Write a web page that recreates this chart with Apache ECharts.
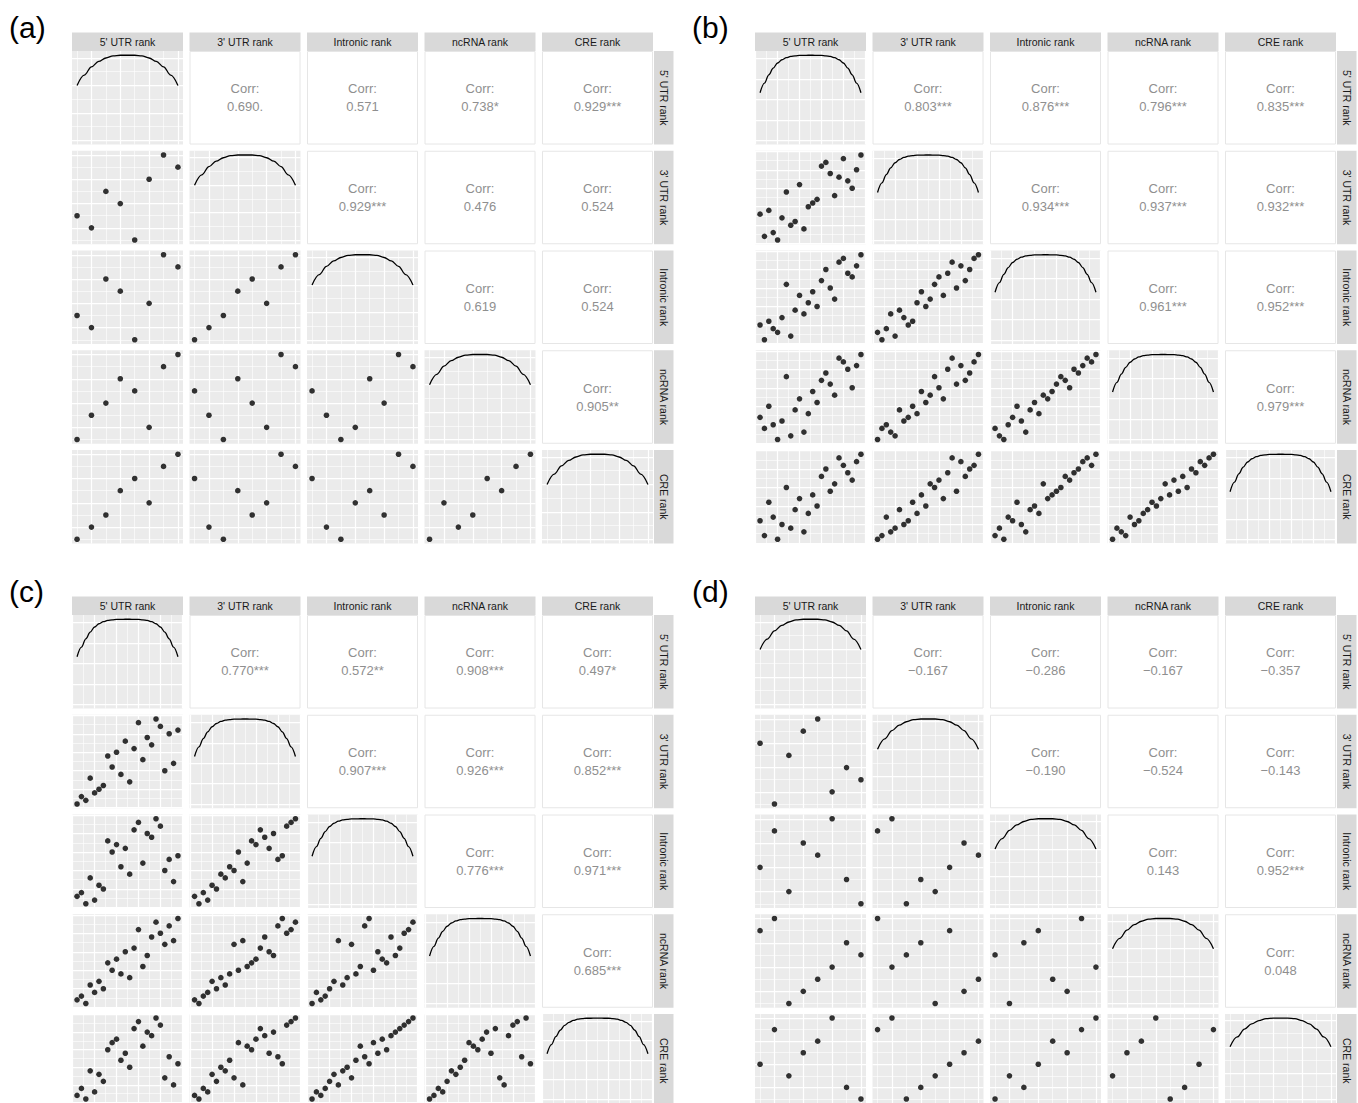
<!DOCTYPE html>
<html>
<head>
<meta charset="utf-8">
<script src="https://cdn.jsdelivr.net/npm/echarts@6/dist/echarts.min.js"></script>
<style>
  html, body { margin: 0; padding: 0; background: #ffffff; }
  #chart { width: 1358px; height: 1103px; }
</style>
</head>
<body>
<div id="chart"></div>
<script>
// Variables shown on the rows / columns of every pair matrix
const variables = ["5' UTR rank", "3' UTR rank", "Intronic rank", "ncRNA rank", "CRE rank"];
const panelLabels = ["(a)", "(b)", "(c)", "(d)"];

// (a) ranks of 8 samples (samples ordered by 5' UTR rank)
const a5utr     = [1, 2, 3, 4, 5, 6, 7, 8];
const a3utr     = [3, 2, 5, 4, 1, 6, 8, 7];
const aIntronic = [3, 2, 6, 5, 1, 4, 8, 7];
const aNcrna    = [1, 3, 4, 6, 5, 2, 7, 8];
const aCre      = [1, 2, 3, 5, 6, 4, 7, 8];

// (b) ranks of 24 samples
const b5utr     = [1, 2, 3, 4, 5, 6, 7, 8, 9, 10, 11, 12, 13, 14, 15, 16, 17, 18, 19, 20, 21, 22, 23, 24];
const b3utr     = [8, 2, 9, 3, 1, 7, 14, 5, 6, 16, 4, 10, 11, 12, 21, 22, 19, 13, 18, 23, 17, 15, 20, 24];
const bIntronic = [5, 1, 6, 4, 3, 7, 16, 2, 9, 13, 8, 11, 14, 10, 17, 20, 15, 12, 22, 23, 19, 18, 21, 24];
const bNcrna    = [7, 4, 10, 5, 1, 6, 18, 2, 9, 12, 3, 8, 14, 11, 17, 19, 16, 13, 23, 22, 20, 15, 21, 24];
const bCre      = [6, 2, 11, 7, 1, 5, 15, 4, 9, 12, 3, 8, 13, 10, 18, 20, 14, 16, 23, 21, 19, 17, 22, 24];

// (c) ranks of 24 samples
const c5utr     = [1, 2, 3, 4, 5, 6, 7, 8, 9, 10, 11, 12, 13, 14, 15, 16, 17, 18, 19, 20, 21, 22, 23, 24];
const c3utr     = [1, 3, 2, 8, 4, 5, 6, 14, 11, 15, 9, 18, 7, 16, 23, 13, 19, 17, 24, 22, 10, 20, 12, 21];
const cIntronic = [3, 4, 1, 8, 2, 6, 5, 18, 15, 17, 11, 16, 9, 21, 23, 12, 20, 19, 24, 22, 10, 13, 7, 14];
const cNcrna    = [2, 3, 1, 6, 4, 7, 5, 12, 10, 13, 9, 15, 8, 16, 21, 11, 14, 19, 23, 20, 17, 22, 18, 24];
const cCre      = [2, 4, 1, 9, 3, 8, 6, 15, 17, 18, 12, 14, 10, 21, 23, 16, 20, 19, 24, 22, 7, 13, 5, 11];

// (d) ranks of 8 samples
const d5utr     = [1, 2, 3, 4, 5, 6, 7, 8];
const d3utr     = [6, 1, 5, 7, 8, 2, 4, 3];
const dIntronic = [4, 7, 2, 6, 5, 8, 3, 1];
const dNcrna    = [7, 8, 1, 2, 3, 4, 6, 5];
const dCre      = [4, 7, 3, 5, 6, 8, 2, 1];

// Upper-triangle correlation labels, pairs (1,2) (1,3) (1,4) (1,5) (2,3) (2,4) (2,5) (3,4) (3,5) (4,5)
const aCorr = ["0.690.", "0.571", "0.738*", "0.929***", "0.929***", "0.476", "0.524", "0.619", "0.524", "0.905**"];
const bCorr = ["0.803***", "0.876***", "0.796***", "0.835***", "0.934***", "0.937***", "0.932***", "0.961***", "0.952***", "0.979***"];
const cCorr = ["0.770***", "0.572**", "0.908***", "0.497*", "0.907***", "0.926***", "0.852***", "0.776***", "0.971***", "0.685***"];
const dCorr = ["\u22120.167", "\u22120.286", "\u22120.167", "\u22120.357", "\u22120.190", "\u22120.524", "\u22120.143", "0.143", "0.952***", "0.048"];

// Diagonal density curves of the rank variables (8 and 24 samples)
const density8X  = [1, 1.5, 2, 2.5, 3, 3.5, 4, 4.5, 5, 5.5, 6, 6.5, 7, 7.5, 8];
const density8Y  = [0.080, 0.095, 0.107, 0.115, 0.120, 0.123, 0.124, 0.124, 0.124, 0.123, 0.120, 0.115, 0.107, 0.095, 0.080];
const density24X = [1, 2, 3, 4, 5, 6, 7, 8, 9, 10, 11, 12, 13, 14, 15, 16, 17, 18, 19, 20, 21, 22, 23, 24];
const density24Y = [0.0233, 0.0280, 0.0321, 0.0354, 0.0379, 0.0395, 0.0405, 0.0411, 0.0414, 0.0416, 0.0416, 0.0417,
                    0.0417, 0.0416, 0.0416, 0.0414, 0.0411, 0.0405, 0.0395, 0.0379, 0.0354, 0.0321, 0.0280, 0.0233];

// Break positions (major / minor) of the rank and density scales
const rankMajor8  = [2, 4, 6, 8];
const rankMinor8  = [1, 3, 5, 7];
const rankMajor24 = [0, 5, 10, 15, 20, 25];
const rankMinor24 = [2.5, 7.5, 12.5, 17.5, 22.5];
const densMajor8  = [0, 0.04, 0.08, 0.12];
const densMinor8  = [0.02, 0.06, 0.10];
const densMajor24 = [0, 0.01, 0.02, 0.03, 0.04];
const densMinor24 = [0.005, 0.015, 0.025, 0.035];

const panels = [
  { label: panelLabels[0], ranks: [a5utr, a3utr, aIntronic, aNcrna, aCre], corr: aCorr,
    densX: density8X, densY: density8Y, rMaj: rankMajor8, rMin: rankMinor8, dMaj: densMajor8, dMin: densMinor8 },
  { label: panelLabels[1], ranks: [b5utr, b3utr, bIntronic, bNcrna, bCre], corr: bCorr,
    densX: density24X, densY: density24Y, rMaj: rankMajor24, rMin: rankMinor24, dMaj: densMajor24, dMin: densMinor24 },
  { label: panelLabels[2], ranks: [c5utr, c3utr, cIntronic, cNcrna, cCre], corr: cCorr,
    densX: density24X, densY: density24Y, rMaj: rankMajor24, rMin: rankMinor24, dMaj: densMajor24, dMin: densMinor24 },
  { label: panelLabels[3], ranks: [d5utr, d3utr, dIntronic, dNcrna, dCre], corr: dCorr,
    densX: density8X, densY: density8Y, rMaj: rankMajor8, rMin: rankMinor8, dMaj: densMajor8, dMin: densMinor8 }
];

// Layout of one pair matrix (pixels, relative to the panel origin)
const PANEL_ORIGIN = [[0, 0], [683, 0], [0, 564], [683, 564]];
const CELL_LEFT = 72, CELL_TOP = 51, CELL_W = 111, CELL_H = 93.5;
const STEP_X = 117.5, STEP_Y = 99.75;
const STRIP_H = 18.5, RSTRIP_W = 19.5;
const FONT = "'Liberation Sans', Arial, Helvetica, sans-serif";

const grids = [], xAxes = [], yAxes = [], series = [], elements = [];

function guide(key, major, minor) {
  const minorItems = minor.map(v => ({ [key]: v, lineStyle: { color: '#ffffff', width: 0.6, type: 'solid', opacity: 1 } }));
  const majorItems = major.map(v => ({ [key]: v, lineStyle: { color: '#ffffff', width: 1.25, type: 'solid', opacity: 1 } }));
  return minorItems.concat(majorItems);
}

function addPlotCell(left, top, p, r, c) {
  const g = grids.length;
  const n = p.ranks[0].length;
  const pad = 0.05 * (n - 1);
  grids.push({ left: left, top: top, width: CELL_W, height: CELL_H, show: true,
               backgroundColor: '#EBEBEB', borderWidth: 0 });
  xAxes.push({ gridIndex: g, type: 'value', min: 1 - pad, max: n + pad, show: false });
  let yMajor, yMinor;
  if (r === c) {
    const peak = Math.max.apply(null, p.densY);
    yAxes.push({ gridIndex: g, type: 'value', min: -0.05 * peak, max: 1.05 * peak, show: false });
    yMajor = p.dMaj; yMinor = p.dMin;
  } else {
    yAxes.push({ gridIndex: g, type: 'value', min: 1 - pad, max: n + pad, show: false });
    yMajor = p.rMaj; yMinor = p.rMin;
  }
  // background guide lines of the cell
  series.push({
    type: 'line', xAxisIndex: g, yAxisIndex: g, data: [], z: 1, silent: true,
    markLine: {
      silent: true, symbol: ['none', 'none'], label: { show: false }, z: 1, animation: false,
      emphasis: { disabled: true },
      data: guide('xAxis', p.rMaj, p.rMin).concat(guide('yAxis', yMajor, yMinor))
    }
  });
  if (r === c) {
    series.push({
      type: 'line', xAxisIndex: g, yAxisIndex: g, z: 3, silent: true,
      data: p.densX.map((x, i) => [x, p.densY[i]]),
      showSymbol: false, smooth: 0.35, smoothMonotone: 'x',
      lineStyle: { color: '#000000', width: 1.3 }
    });
  } else {
    const xs = p.ranks[c], ys = p.ranks[r];
    series.push({
      type: 'scatter', xAxisIndex: g, yAxisIndex: g, z: 3, silent: true,
      data: xs.map((x, i) => [x, ys[i]]),
      symbol: 'circle', symbolSize: 5.6, itemStyle: { color: '#000000' }
    });
  }
}

function addCorrCell(left, top, text) {
  elements.push({ type: 'rect', silent: true,
    shape: { x: left + 0.5, y: top + 0.5, width: CELL_W - 1, height: CELL_H - 1 },
    style: { fill: '#ffffff', stroke: '#E6E6E6', lineWidth: 1 } });
  const cx = left + CELL_W / 2, cy = top + CELL_H / 2;
  elements.push({ type: 'text', silent: true, x: cx, y: cy - 9,
    style: { text: 'Corr:', fill: '#8F8F8F', fontSize: 13, fontFamily: FONT, align: 'center', verticalAlign: 'middle' } });
  elements.push({ type: 'text', silent: true, x: cx, y: cy + 9,
    style: { text: text, fill: '#8F8F8F', fontSize: 13, fontFamily: FONT, align: 'center', verticalAlign: 'middle' } });
}

panels.forEach((p, pi) => {
  const [ox, oy] = PANEL_ORIGIN[pi];
  elements.push({ type: 'text', silent: true, x: ox + 9, y: oy + 27,
    style: { text: p.label, fill: '#000000', fontSize: 30, fontFamily: FONT, align: 'left', verticalAlign: 'middle' } });

  const rightX = ox + CELL_LEFT + 4 * STEP_X + CELL_W + 1;
  for (let k = 0; k < 5; k++) {
    // column strip
    const sx = ox + CELL_LEFT + k * STEP_X, sy = oy + CELL_TOP - STRIP_H;
    elements.push({ type: 'rect', silent: true, shape: { x: sx, y: sy, width: CELL_W, height: STRIP_H },
      style: { fill: '#D9D9D9' } });
    elements.push({ type: 'text', silent: true, x: sx + CELL_W / 2, y: sy + STRIP_H / 2 + 0.5,
      style: { text: variables[k], fill: '#1A1A1A', fontSize: 10.5, fontFamily: FONT, align: 'center', verticalAlign: 'middle' } });
    // row strip
    const ry = oy + CELL_TOP + k * STEP_Y;
    elements.push({ type: 'rect', silent: true, shape: { x: rightX, y: ry, width: RSTRIP_W, height: CELL_H },
      style: { fill: '#D9D9D9' } });
    elements.push({ type: 'text', silent: true, x: rightX + RSTRIP_W / 2, y: ry + CELL_H / 2, rotation: -Math.PI / 2,
      style: { text: variables[k], fill: '#1A1A1A', fontSize: 10.5, fontFamily: FONT, align: 'center', verticalAlign: 'middle' } });
  }

  // lower triangle and diagonal: scatter plots and density curves
  for (let r = 0; r < 5; r++) {
    for (let c = 0; c <= r; c++) {
      addPlotCell(ox + CELL_LEFT + c * STEP_X, oy + CELL_TOP + r * STEP_Y, p, r, c);
    }
  }
  // upper triangle: correlation labels, pair order (0,1)(0,2)(0,3)(0,4)(1,2)(1,3)(1,4)(2,3)(2,4)(3,4)
  let corrIndex = 0;
  for (let i = 0; i < 5; i++) {
    for (let j = i + 1; j < 5; j++) {
      addCorrCell(ox + CELL_LEFT + j * STEP_X, oy + CELL_TOP + i * STEP_Y, p.corr[corrIndex++]);
    }
  }
});

const chart = echarts.init(document.getElementById('chart'), null, { renderer: 'svg' });
chart.setOption({
  animation: false,
  backgroundColor: '#ffffff',
  grid: grids,
  xAxis: xAxes,
  yAxis: yAxes,
  series: series,
  graphic: { elements: elements }
});
</script>
</body>
</html>
